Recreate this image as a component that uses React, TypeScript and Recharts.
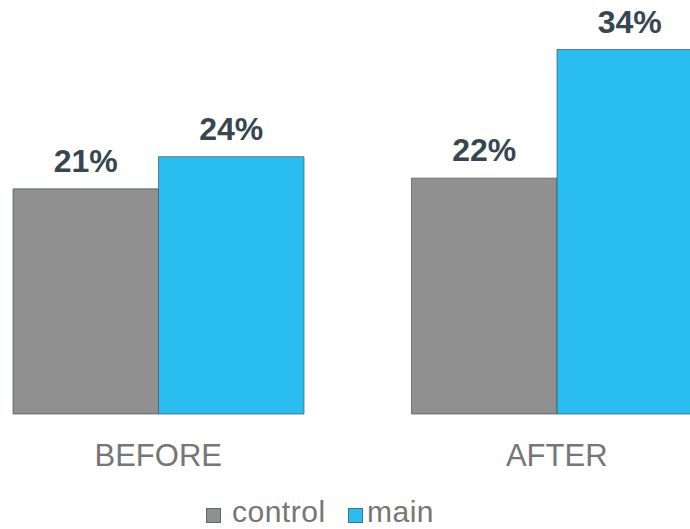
import React from "react";
import { BarChart, Bar, XAxis, YAxis, LabelList, Legend } from "recharts";

const categories = ["BEFORE", "AFTER"];
const controlValues = [21, 22];
const mainValues = [24, 34];
const seriesNames = ["control", "main"];
const seriesColors = ["#909090", "#29bdf0"];

const data = categories.map((c, i) => ({
  name: c,
  control: controlValues[i],
  main: mainValues[i],
}));

const FONT = "'Liberation Sans', Arial, sans-serif";

const squareLeft = [0, 142];
const textLeft = [26, 161];

const LegendContent = () => (
  <div style={{ position: "relative", width: 240, height: 30, fontFamily: FONT }}>
    {seriesNames.map((n, i) => (
      <React.Fragment key={n}>
        <div
          style={{
            position: "absolute",
            left: squareLeft[i],
            top: 11,
            width: 15,
            height: 15,
            boxSizing: "border-box",
            background: seriesColors[i],
            border: "1px solid rgba(70,85,90,0.7)",
          }}
        />
        <span
          style={{
            position: "absolute",
            left: textLeft[i],
            top: 0,
            fontSize: 30,
            lineHeight: "30px",
            letterSpacing: 0.5,
            color: "#767676",
            whiteSpace: "nowrap",
          }}
        >
          {n}
        </span>
      </React.Fragment>
    ))}
  </div>
);

export default function App() {
  return (
    <div
      style={{
        position: "absolute",
        left: 0,
        top: 0,
        width: 690,
        height: 529,
        overflow: "hidden",
        background: "#fff",
      }}
    >
      <div style={{ position: "absolute", left: -41, top: 0 }}>
        <BarChart
          width={797}
          height={529}
          data={data}
          barGap={0}
          margin={{ top: 49.5, right: 0, left: 0, bottom: 55 }}
        >
          <XAxis
            dataKey="name"
            axisLine={false}
            tickLine={false}
            tickSize={0}
            tickMargin={30}
            height={60}
            tick={{ fill: "#767676", fontSize: 31, fontFamily: FONT }}
          />
          <YAxis hide domain={[0, 34]} />
          <Legend
            layout="vertical"
            align="center"
            verticalAlign="middle"
            content={<LegendContent />}
            wrapperStyle={{ left: 247, top: 497, width: 240, height: 30 }}
          />
          <Bar
            dataKey="control"
            name="control"
            fill={seriesColors[0]}
            stroke="rgba(70,85,90,0.7)"
            strokeWidth={1}
            barSize={145.5}
            isAnimationActive={false}
          >
            <LabelList
              dataKey="control"
              position="top"
              offset={17}
              formatter={(v: number) => `${v}%`}
              fill="#37474f"
              fontSize={32}
              fontWeight="bold"
              fontFamily={FONT}
            />
          </Bar>
          <Bar
            dataKey="main"
            name="main"
            fill={seriesColors[1]}
            stroke="rgba(70,85,90,0.7)"
            strokeWidth={1}
            barSize={145.5}
            isAnimationActive={false}
          >
            <LabelList
              dataKey="main"
              position="top"
              offset={17}
              formatter={(v: number) => `${v}%`}
              fill="#37474f"
              fontSize={32}
              fontWeight="bold"
              fontFamily={FONT}
            />
          </Bar>
        </BarChart>
      </div>
    </div>
  );
}
